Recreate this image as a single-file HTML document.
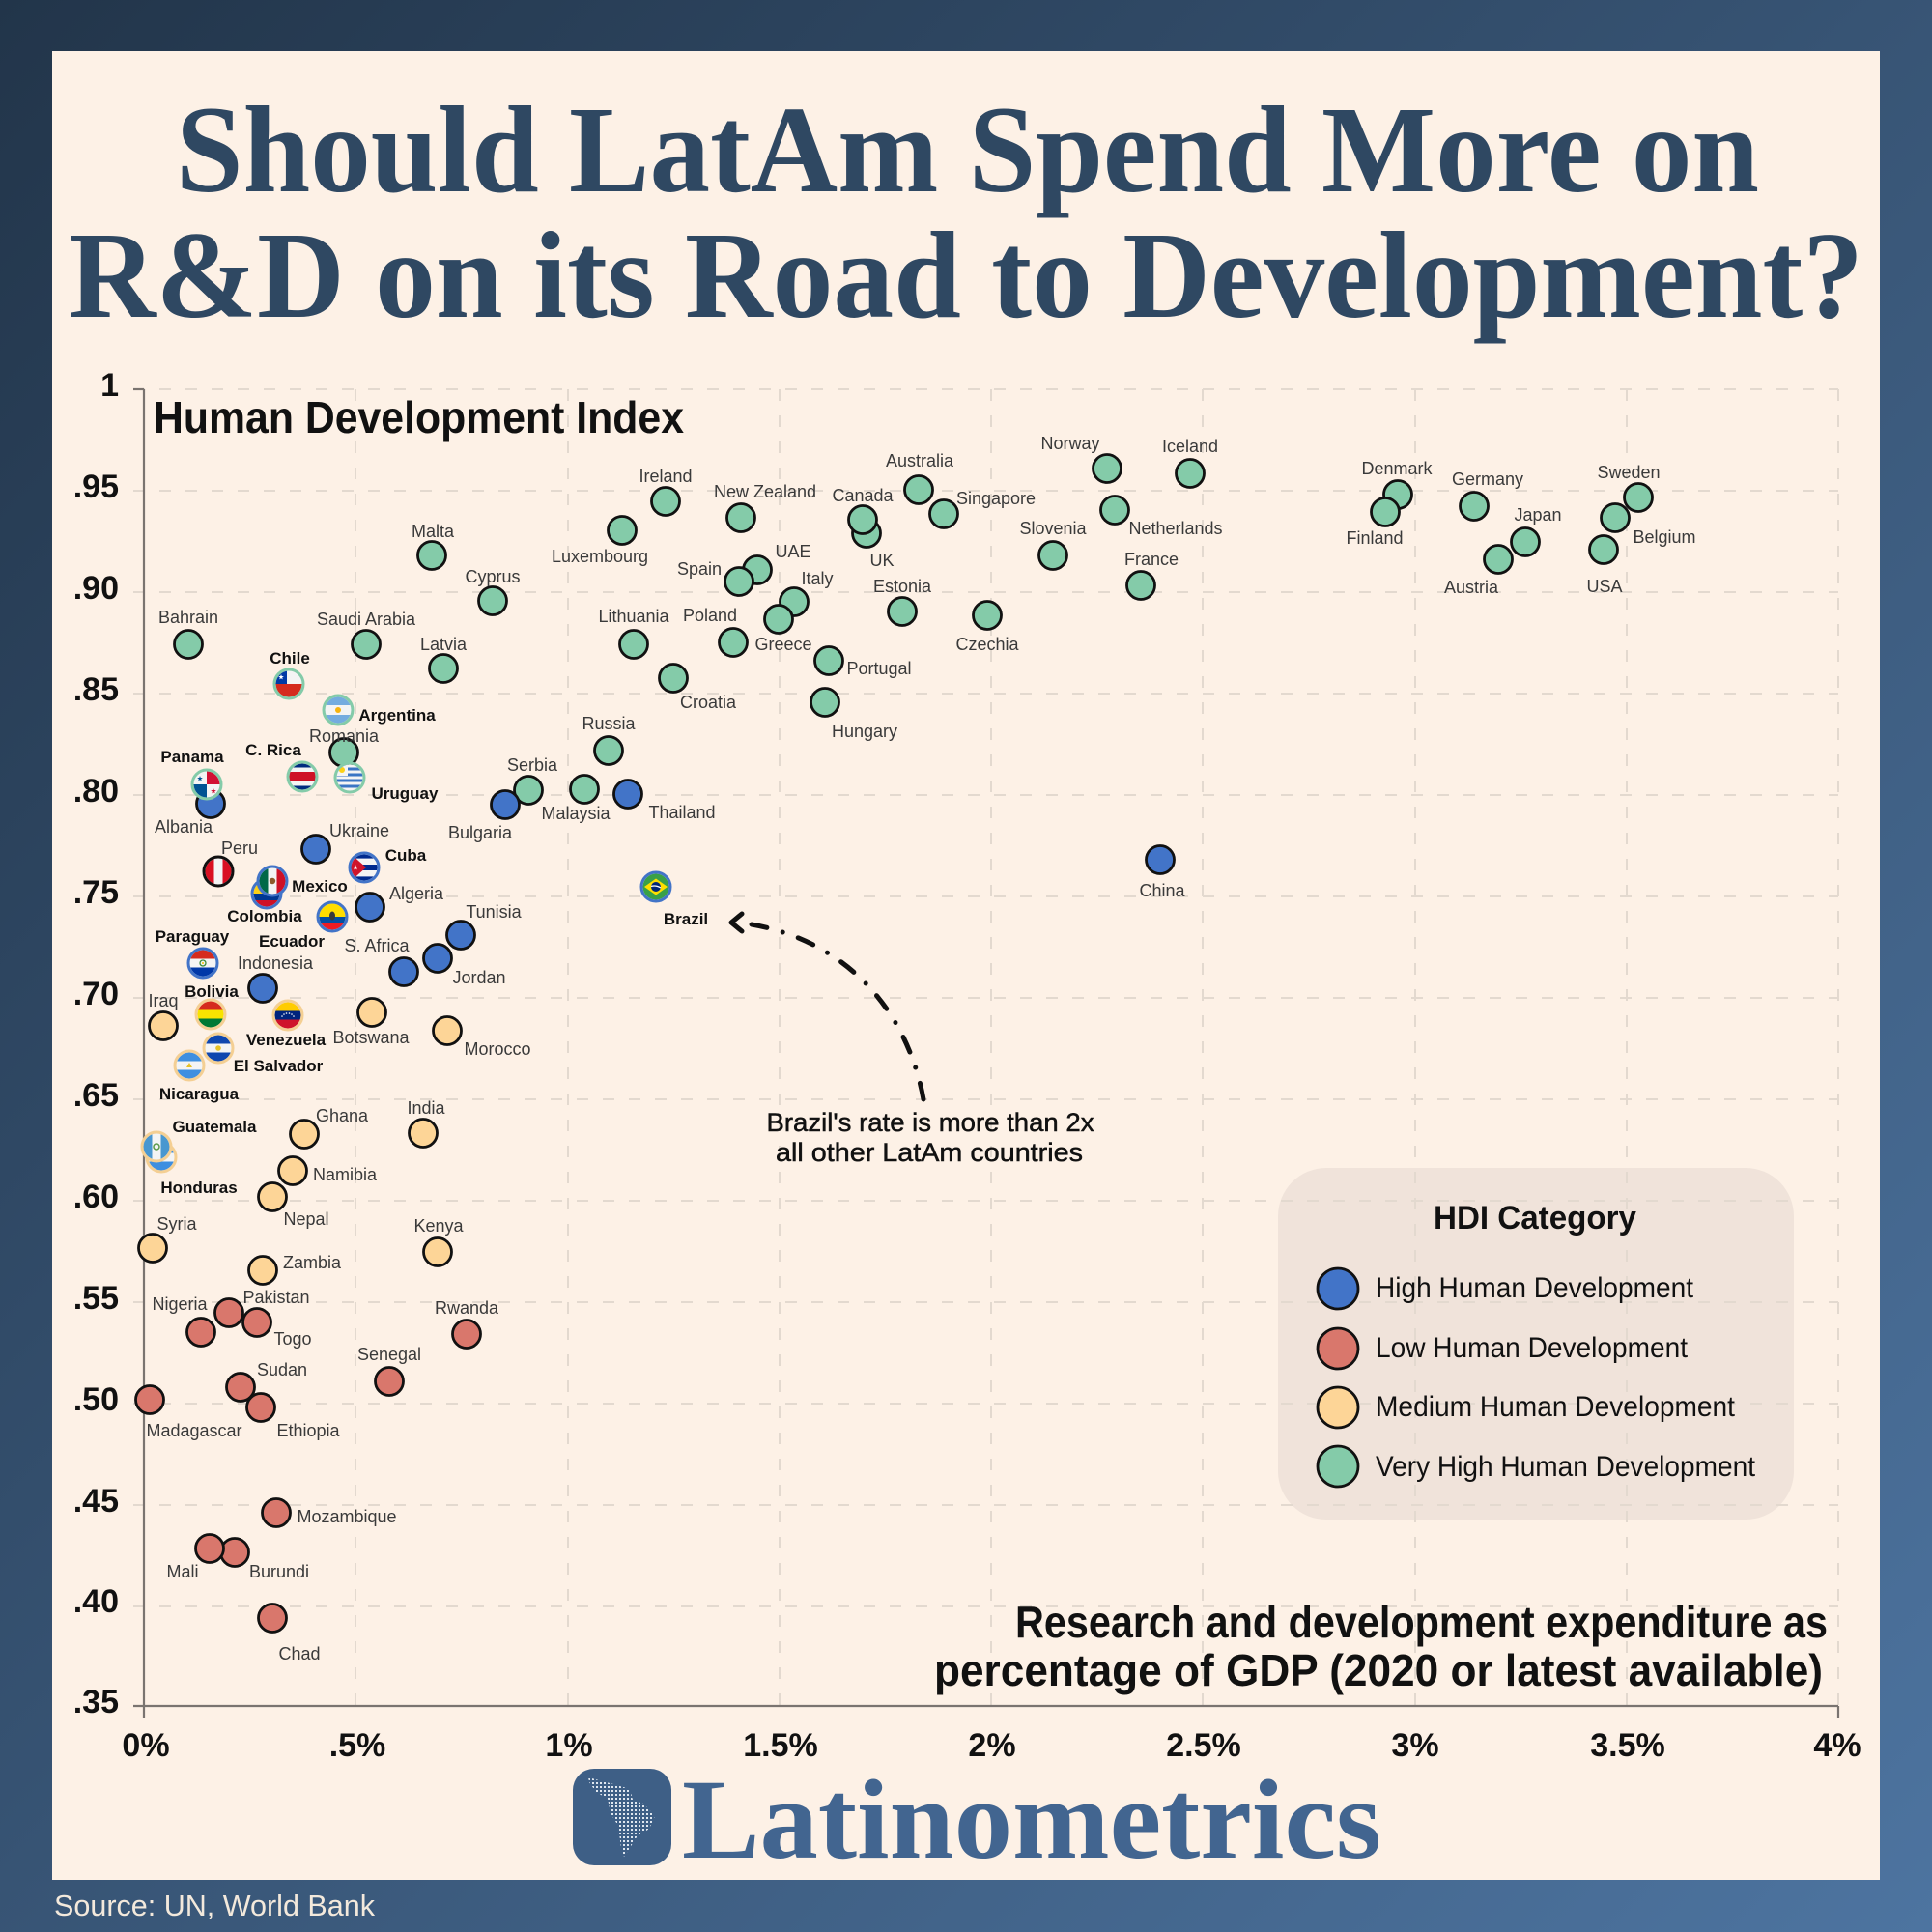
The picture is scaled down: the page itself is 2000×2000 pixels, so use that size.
<!DOCTYPE html>
<html><head><meta charset="utf-8"><style>
html,body{margin:0;padding:0;width:2000px;height:2000px;overflow:hidden;}
svg{display:block;}
.lb{font-family:"Liberation Sans",sans-serif;font-size:18px;fill:#3a3a3a;text-anchor:middle;}
.bl{font-family:"Liberation Sans",sans-serif;font-size:17px;font-weight:bold;fill:#111;text-anchor:middle;}
.yt{font-family:"Liberation Sans",sans-serif;font-size:34px;font-weight:bold;fill:#111;text-anchor:end;}
.xt{font-family:"Liberation Sans",sans-serif;font-size:34px;font-weight:bold;fill:#111;text-anchor:middle;}
.g{fill:#84cba9;stroke:#111;stroke-width:2.8;}
.b{fill:#4274c8;stroke:#111;stroke-width:2.8;}
.o{fill:#fdd597;stroke:#111;stroke-width:2.8;}
.r{fill:#d9776c;stroke:#111;stroke-width:2.8;}
</style></head><body>
<svg width="2000" height="2000" viewBox="0 0 2000 2000" xmlns="http://www.w3.org/2000/svg">
<defs>
<linearGradient id="bg" x1="0" y1="0" x2="2000" y2="2000" gradientUnits="userSpaceOnUse">
<stop offset="0" stop-color="#22354a"/><stop offset="1" stop-color="#4d74a0"/>
</linearGradient>
<clipPath id="fc"><circle cx="0" cy="0" r="13.5"/></clipPath>
<path id="star" d="M0,-3L0.7,-0.97L2.85,-0.93L1.14,0.37L1.76,2.43L0,1.2L-1.76,2.43L-1.14,0.37L-2.85,-0.93L-0.7,-0.97Z"/>
<pattern id="dots" x="0" y="0" width="4" height="4" patternUnits="userSpaceOnUse"><rect x="1" y="1" width="2" height="2" fill="#dfe7f0"/></pattern>
</defs>
<rect width="2000" height="2000" fill="url(#bg)"/>
<rect x="54" y="53" width="1892" height="1893" fill="#fdf1e6"/>

<!-- Title -->
<text x="182" y="198" font-family="'Liberation Serif',serif" font-weight="bold" font-size="128" fill="#2f4862" textLength="1639" lengthAdjust="spacingAndGlyphs">Should LatAm Spend More on</text>
<text x="71" y="328" font-family="'Liberation Serif',serif" font-weight="bold" font-size="128" fill="#2f4862" textLength="1858" lengthAdjust="spacingAndGlyphs">R&amp;D on its Road to Development?</text>

<!-- Legend box (behind grid partially) -->
<rect x="1323" y="1209" width="534" height="364" rx="50" fill="#e7dbd2" opacity="0.6"/>

<!-- Grid -->
<g stroke="#e3d9cf" stroke-width="2" stroke-dasharray="12 15" fill="none">
<line x1="138" y1="403" x2="1903" y2="403"/>
<line x1="138" y1="508" x2="1903" y2="508"/>
<line x1="138" y1="613" x2="1903" y2="613"/>
<line x1="138" y1="718" x2="1903" y2="718"/>
<line x1="138" y1="823" x2="1903" y2="823"/>
<line x1="138" y1="928" x2="1903" y2="928"/>
<line x1="138" y1="1033" x2="1903" y2="1033"/>
<line x1="138" y1="1138" x2="1903" y2="1138"/>
<line x1="138" y1="1243" x2="1903" y2="1243"/>
<line x1="138" y1="1348" x2="1903" y2="1348"/>
<line x1="138" y1="1453" x2="1903" y2="1453"/>
<line x1="138" y1="1558" x2="1903" y2="1558"/>
<line x1="138" y1="1663" x2="1903" y2="1663"/>
<line x1="368" y1="403" x2="368" y2="1766"/>
<line x1="588" y1="403" x2="588" y2="1766"/>
<line x1="807" y1="403" x2="807" y2="1766"/>
<line x1="1026" y1="403" x2="1026" y2="1766"/>
<line x1="1245" y1="403" x2="1245" y2="1766"/>
<line x1="1465" y1="403" x2="1465" y2="1766"/>
<line x1="1684" y1="403" x2="1684" y2="1766"/>
<line x1="1903" y1="403" x2="1903" y2="1766"/>
</g>

<!-- Axes -->
<g stroke="#7a7470" stroke-width="2.2" fill="none">
<line x1="149" y1="403" x2="149" y2="1778"/>
<line x1="138" y1="403" x2="149" y2="403"/>
<line x1="138" y1="1766" x2="1903" y2="1766"/>
<line x1="1903" y1="1766" x2="1903" y2="1778"/>
</g>

<!-- Y tick labels -->
<text class="yt" x="123" y="410">1</text>
<text class="yt" x="123" y="515">.95</text>
<text class="yt" x="123" y="620">.90</text>
<text class="yt" x="123" y="725">.85</text>
<text class="yt" x="123" y="830">.80</text>
<text class="yt" x="123" y="935">.75</text>
<text class="yt" x="123" y="1040">.70</text>
<text class="yt" x="123" y="1145">.65</text>
<text class="yt" x="123" y="1250">.60</text>
<text class="yt" x="123" y="1355">.55</text>
<text class="yt" x="123" y="1460">.50</text>
<text class="yt" x="123" y="1565">.45</text>
<text class="yt" x="123" y="1669">.40</text>
<text class="yt" x="123" y="1773">.35</text>

<!-- X tick labels -->
<text class="xt" x="151" y="1818">0%</text>
<text class="xt" x="370" y="1818">.5%</text>
<text class="xt" x="589" y="1818">1%</text>
<text class="xt" x="808" y="1818">1.5%</text>
<text class="xt" x="1027" y="1818">2%</text>
<text class="xt" x="1246" y="1818">2.5%</text>
<text class="xt" x="1465" y="1818">3%</text>
<text class="xt" x="1685" y="1818">3.5%</text>
<text class="xt" x="1902" y="1818">4%</text>

<!-- Axis titles -->
<text x="159" y="448" font-family="'Liberation Sans',sans-serif" font-weight="bold" font-size="46" fill="#111" textLength="549" lengthAdjust="spacingAndGlyphs">Human Development Index</text>
<text x="1051" y="1695" font-family="'Liberation Sans',sans-serif" font-weight="bold" font-size="46" fill="#111" textLength="841" lengthAdjust="spacingAndGlyphs">Research and development expenditure as</text>
<text x="967" y="1745" font-family="'Liberation Sans',sans-serif" font-weight="bold" font-size="46" fill="#111" textLength="920" lengthAdjust="spacingAndGlyphs">percentage of GDP (2020 or latest available)</text>

<!-- Legend -->
<text x="1589" y="1272" font-family="'Liberation Sans',sans-serif" font-weight="bold" font-size="34" fill="#111" text-anchor="middle" textLength="210" lengthAdjust="spacingAndGlyphs">HDI Category</text>
<circle cx="1385" cy="1334" r="21" class="b"/>
<circle cx="1385" cy="1396" r="21" class="r"/>
<circle cx="1385" cy="1457" r="21" class="o"/>
<circle cx="1385" cy="1518" r="21" class="g"/>
<g font-family="'Liberation Sans',sans-serif" font-size="30" fill="#111">
<text x="1424" y="1343" textLength="329" lengthAdjust="spacingAndGlyphs">High Human Development</text>
<text x="1424" y="1405" textLength="323" lengthAdjust="spacingAndGlyphs">Low Human Development</text>
<text x="1424" y="1466" textLength="372" lengthAdjust="spacingAndGlyphs">Medium Human Development</text>
<text x="1424" y="1528" textLength="393" lengthAdjust="spacingAndGlyphs">Very High Human Development</text>
</g>

<!-- Very high circles -->
<circle cx="689" cy="519" r="14.5" class="g"/>
<circle cx="644" cy="549" r="14.5" class="g"/>
<circle cx="767" cy="536" r="14.5" class="g"/>
<circle cx="897" cy="552" r="14.5" class="g"/>
<circle cx="893" cy="538" r="14.5" class="g"/>
<circle cx="951" cy="507" r="14.5" class="g"/>
<circle cx="977" cy="532" r="14.5" class="g"/>
<circle cx="1146" cy="485" r="14.5" class="g"/>
<circle cx="1232" cy="490" r="14.5" class="g"/>
<circle cx="1154" cy="528" r="14.5" class="g"/>
<circle cx="1090" cy="575" r="14.5" class="g"/>
<circle cx="1181" cy="606" r="14.5" class="g"/>
<circle cx="784" cy="590" r="14.5" class="g"/>
<circle cx="765" cy="602" r="14.5" class="g"/>
<circle cx="822" cy="623" r="14.5" class="g"/>
<circle cx="806" cy="641" r="14.5" class="g"/>
<circle cx="934" cy="633" r="14.5" class="g"/>
<circle cx="1022" cy="637" r="14.5" class="g"/>
<circle cx="656" cy="667" r="14.5" class="g"/>
<circle cx="759" cy="665" r="14.5" class="g"/>
<circle cx="858" cy="684" r="14.5" class="g"/>
<circle cx="697" cy="702" r="14.5" class="g"/>
<circle cx="854" cy="727" r="14.5" class="g"/>
<circle cx="630" cy="777" r="14.5" class="g"/>
<circle cx="605" cy="817" r="14.5" class="g"/>
<circle cx="1447" cy="512" r="14.5" class="g"/>
<circle cx="1434" cy="530" r="14.5" class="g"/>
<circle cx="1526" cy="524" r="14.5" class="g"/>
<circle cx="1579" cy="561" r="14.5" class="g"/>
<circle cx="1551" cy="579" r="14.5" class="g"/>
<circle cx="1696" cy="515" r="14.5" class="g"/>
<circle cx="1672" cy="536" r="14.5" class="g"/>
<circle cx="1660" cy="569" r="14.5" class="g"/>
<circle cx="195" cy="667" r="14.5" class="g"/>
<circle cx="379" cy="667" r="14.5" class="g"/>
<circle cx="447" cy="575" r="14.5" class="g"/>
<circle cx="510" cy="622" r="14.5" class="g"/>
<circle cx="459" cy="692" r="14.5" class="g"/>
<circle cx="356" cy="779" r="14.5" class="g"/>
<circle cx="547" cy="818" r="14.5" class="g"/>

<!-- High circles -->
<circle cx="218" cy="832" r="14.5" class="b"/>
<circle cx="523" cy="833" r="14.5" class="b"/>
<circle cx="650" cy="822" r="14.5" class="b"/>
<circle cx="1201" cy="890" r="14.5" class="b"/>
<circle cx="327" cy="879" r="14.5" class="b"/>
<circle cx="383" cy="939" r="14.5" class="b"/>
<circle cx="477" cy="968" r="14.5" class="b"/>
<circle cx="453" cy="992" r="14.5" class="b"/>
<circle cx="418" cy="1006" r="14.5" class="b"/>
<circle cx="272" cy="1023" r="14.5" class="b"/>

<!-- Medium circles -->
<circle cx="169" cy="1062" r="14.5" class="o"/>
<circle cx="385" cy="1048" r="14.5" class="o"/>
<circle cx="463" cy="1067" r="14.5" class="o"/>
<circle cx="315" cy="1174" r="14.5" class="o"/>
<circle cx="438" cy="1173" r="14.5" class="o"/>
<circle cx="303" cy="1212" r="14.5" class="o"/>
<circle cx="282" cy="1239" r="14.5" class="o"/>
<circle cx="158" cy="1292" r="14.5" class="o"/>
<circle cx="453" cy="1296" r="14.5" class="o"/>
<circle cx="272" cy="1315" r="14.5" class="o"/>

<!-- Low circles -->
<circle cx="237" cy="1359" r="14.5" class="r"/>
<circle cx="208" cy="1379" r="14.5" class="r"/>
<circle cx="266" cy="1369" r="14.5" class="r"/>
<circle cx="483" cy="1381" r="14.5" class="r"/>
<circle cx="403" cy="1430" r="14.5" class="r"/>
<circle cx="249" cy="1436" r="14.5" class="r"/>
<circle cx="155" cy="1449" r="14.5" class="r"/>
<circle cx="270" cy="1457" r="14.5" class="r"/>
<circle cx="286" cy="1566" r="14.5" class="r"/>
<circle cx="243" cy="1607" r="14.5" class="r"/>
<circle cx="217" cy="1603" r="14.5" class="r"/>
<circle cx="282" cy="1675" r="14.5" class="r"/>

<!-- Flags -->
<!-- Chile -->
<g transform="translate(299,708)"><g clip-path="url(#fc)">
<rect x="-15" y="-15" width="30" height="15" fill="#f4f4f4"/><rect x="-15" y="0" width="30" height="15" fill="#d52b1e"/><rect x="-15" y="-15" width="13" height="15" fill="#0039a6"/><use href="#star" x="-8" y="-7" fill="#fff"/>
</g><circle r="15" fill="none" stroke="#84cba9" stroke-width="3"/></g>
<!-- Argentina -->
<g transform="translate(350,735)"><g clip-path="url(#fc)">
<rect x="-15" y="-15" width="30" height="30" fill="#74acdf"/><rect x="-15" y="-5" width="30" height="10" fill="#f4f4f4"/><circle r="3" fill="#f6b40e"/>
</g><circle r="15" fill="none" stroke="#84cba9" stroke-width="3"/></g>
<!-- Costa Rica -->
<g transform="translate(313,804)"><g clip-path="url(#fc)">
<rect x="-15" y="-15" width="30" height="30" fill="#002b7f"/><rect x="-15" y="-9.5" width="30" height="19" fill="#f4f4f4"/><rect x="-15" y="-5" width="30" height="10" fill="#ce1126"/>
</g><circle r="15" fill="none" stroke="#84cba9" stroke-width="3"/></g>
<!-- Uruguay -->
<g transform="translate(362,805)"><g clip-path="url(#fc)">
<rect x="-15" y="-15" width="30" height="30" fill="#f4f4f4"/>
<rect x="-15" y="-10.5" width="30" height="3" fill="#3a75c4"/><rect x="-15" y="-4.5" width="30" height="3" fill="#3a75c4"/><rect x="-15" y="1.5" width="30" height="3" fill="#3a75c4"/><rect x="-15" y="7.5" width="30" height="3" fill="#3a75c4"/>
<rect x="-15" y="-15" width="13" height="13" fill="#f4f4f4"/><circle cx="-8" cy="-8" r="3" fill="#fcd116"/>
</g><circle r="15" fill="none" stroke="#84cba9" stroke-width="3"/></g>
<!-- Albania label-circle already drawn; Panama flag -->
<g transform="translate(214,812)"><g clip-path="url(#fc)">
<rect x="-15" y="-15" width="30" height="30" fill="#f4f4f4"/><rect x="0" y="-15" width="15" height="15" fill="#d21034"/><rect x="-15" y="0" width="15" height="15" fill="#005293"/><use href="#star" x="-7" y="-6" fill="#005293"/><use href="#star" x="7" y="7" fill="#d21034"/>
</g><circle r="15" fill="none" stroke="#84cba9" stroke-width="3"/></g>
<!-- Peru -->
<g transform="translate(226,902)"><g clip-path="url(#fc)">
<rect x="-15" y="-15" width="30" height="30" fill="#f4f4f4"/><rect x="-15" y="-15" width="10.5" height="30" fill="#d91023"/><rect x="4.5" y="-15" width="10.5" height="30" fill="#d91023"/>
</g><circle r="15" fill="none" stroke="#111" stroke-width="3"/></g>
<!-- Cuba -->
<g transform="translate(377,898)"><g clip-path="url(#fc)">
<rect x="-15" y="-15" width="30" height="30" fill="#f4f4f4"/><rect x="-15" y="-15" width="30" height="5.6" fill="#002a8f"/><rect x="-15" y="-3" width="30" height="6" fill="#002a8f"/><rect x="-15" y="9.4" width="30" height="6" fill="#002a8f"/>
<path d="M-15,-15L2,0L-15,15Z" fill="#cf142b"/><use href="#star" x="-9" y="0" fill="#fff"/>
</g><circle r="15" fill="none" stroke="#4274c8" stroke-width="3"/></g>
<!-- Colombia -->
<g transform="translate(276,925)"><g clip-path="url(#fc)">
<rect x="-15" y="-15" width="30" height="15" fill="#fcd116"/><rect x="-15" y="0" width="30" height="7" fill="#003893"/><rect x="-15" y="7" width="30" height="8" fill="#ce1126"/>
</g><circle r="15" fill="none" stroke="#4274c8" stroke-width="3"/></g>
<!-- Mexico -->
<g transform="translate(282,912)"><g clip-path="url(#fc)">
<rect x="-15" y="-15" width="30" height="30" fill="#f4f4f4"/><rect x="-15" y="-15" width="10.5" height="30" fill="#006847"/><rect x="4.5" y="-15" width="10.5" height="30" fill="#ce1126"/><circle r="3.2" fill="#8c5a2b"/>
</g><circle r="15" fill="none" stroke="#4274c8" stroke-width="3"/></g>
<!-- Ecuador -->
<g transform="translate(344,949)"><g clip-path="url(#fc)">
<rect x="-15" y="-15" width="30" height="15" fill="#ffdd00"/><rect x="-15" y="0" width="30" height="7" fill="#034ea2"/><rect x="-15" y="7" width="30" height="8" fill="#ed1c24"/><ellipse cx="0" cy="-1" rx="3" ry="4.5" fill="#3a3a3a"/>
</g><circle r="15" fill="none" stroke="#4274c8" stroke-width="3"/></g>
<!-- Paraguay -->
<g transform="translate(210,997)"><g clip-path="url(#fc)">
<rect x="-15" y="-15" width="30" height="30" fill="#f4f4f4"/><rect x="-15" y="-15" width="30" height="10.5" fill="#d52b1e"/><rect x="-15" y="4.5" width="30" height="10.5" fill="#0038a8"/><circle r="3" fill="none" stroke="#3c8a3c" stroke-width="1.3"/><circle r="1" fill="#f5c400"/>
</g><circle r="15" fill="none" stroke="#4274c8" stroke-width="3"/></g>
<!-- Bolivia -->
<g transform="translate(218,1050)"><g clip-path="url(#fc)">
<rect x="-15" y="-15" width="30" height="10.5" fill="#d52b1e"/><rect x="-15" y="-4.5" width="30" height="9" fill="#f9e300"/><rect x="-15" y="4.5" width="30" height="10.5" fill="#007934"/>
</g><circle r="15" fill="none" stroke="#f4cf93" stroke-width="3"/></g>
<!-- Venezuela -->
<g transform="translate(298,1051)"><g clip-path="url(#fc)">
<rect x="-15" y="-15" width="30" height="10.5" fill="#ffcc00"/><rect x="-15" y="-4.5" width="30" height="9" fill="#00247d"/><rect x="-15" y="4.5" width="30" height="10.5" fill="#cf142b"/>
<g fill="#fff"><circle cx="-6" cy="1" r="0.8"/><circle cx="-4" cy="-1" r="0.8"/><circle cx="-1.5" cy="-2" r="0.8"/><circle cx="1.5" cy="-2" r="0.8"/><circle cx="4" cy="-1" r="0.8"/><circle cx="6" cy="1" r="0.8"/></g>
</g><circle r="15" fill="none" stroke="#f4cf93" stroke-width="3"/></g>
<!-- El Salvador -->
<g transform="translate(226,1085)"><g clip-path="url(#fc)">
<rect x="-15" y="-15" width="30" height="30" fill="#f4f4f4"/><rect x="-15" y="-15" width="30" height="10.5" fill="#0f47af"/><rect x="-15" y="4.5" width="30" height="10.5" fill="#0f47af"/><circle r="2.8" fill="#e6c228"/>
</g><circle r="15" fill="none" stroke="#f4cf93" stroke-width="3"/></g>
<!-- Nicaragua -->
<g transform="translate(196,1103)"><g clip-path="url(#fc)">
<rect x="-15" y="-15" width="30" height="30" fill="#f4f4f4"/><rect x="-15" y="-15" width="30" height="10.5" fill="#3e8fe0"/><rect x="-15" y="4.5" width="30" height="10.5" fill="#3e8fe0"/><path d="M-3,2L0,-3L3,2Z" fill="#e6c228"/>
</g><circle r="15" fill="none" stroke="#f4cf93" stroke-width="3"/></g>
<!-- Honduras -->
<g transform="translate(167,1198)"><g clip-path="url(#fc)">
<rect x="-15" y="-15" width="30" height="30" fill="#f4f4f4"/><rect x="-15" y="-15" width="30" height="10.5" fill="#3e8fe0"/><rect x="-15" y="4.5" width="30" height="10.5" fill="#3e8fe0"/><use href="#star" x="0" y="0" fill="#3e8fe0" transform="scale(0.8)"/>
</g><circle r="15" fill="none" stroke="#f4cf93" stroke-width="3"/></g>
<!-- Guatemala -->
<g transform="translate(162,1187)"><g clip-path="url(#fc)">
<rect x="-15" y="-15" width="30" height="30" fill="#f4f4f4"/><rect x="-15" y="-15" width="10.5" height="30" fill="#4997d0"/><rect x="4.5" y="-15" width="10.5" height="30" fill="#4997d0"/><circle r="3" fill="none" stroke="#5a9a4a" stroke-width="1.5"/>
</g><circle r="15" fill="none" stroke="#f4cf93" stroke-width="3"/></g>
<!-- Brazil -->
<g transform="translate(679,918)"><g clip-path="url(#fc)">
<rect x="-15" y="-15" width="30" height="30" fill="#39a048"/><path d="M-12,0L0,-8.5L12,0L0,8.5Z" fill="#fedf00"/><circle r="5" fill="#002776"/><path d="M-5,-0.5Q0,-2 5,1" stroke="#fff" stroke-width="1.2" fill="none"/>
</g><circle r="15" fill="none" stroke="#4274c8" stroke-width="3"/></g>

<!-- Regular labels -->
<g class="lb">
<text x="689" y="499">Ireland</text>
<text x="621" y="582">Luxembourg</text>
<text x="792" y="515">New Zealand</text>
<text x="893" y="519">Canada</text>
<text x="913" y="586">UK</text>
<text x="952" y="483">Australia</text>
<text x="1031" y="522">Singapore</text>
<text x="1108" y="465">Norway</text>
<text x="1232" y="468">Iceland</text>
<text x="1217" y="553">Netherlands</text>
<text x="1090" y="553">Slovenia</text>
<text x="1192" y="585">France</text>
<text x="821" y="577">UAE</text>
<text x="724" y="595">Spain</text>
<text x="846" y="605">Italy</text>
<text x="811" y="673">Greece</text>
<text x="934" y="613">Estonia</text>
<text x="1022" y="673">Czechia</text>
<text x="656" y="644">Lithuania</text>
<text x="735" y="643">Poland</text>
<text x="910" y="698">Portugal</text>
<text x="733" y="733">Croatia</text>
<text x="895" y="763">Hungary</text>
<text x="630" y="755">Russia</text>
<text x="596" y="848">Malaysia</text>
<text x="706" y="847">Thailand</text>
<text x="1203" y="928">China</text>
<text x="1446" y="491">Denmark</text>
<text x="1423" y="563">Finland</text>
<text x="1540" y="502">Germany</text>
<text x="1592" y="539">Japan</text>
<text x="1523" y="614">Austria</text>
<text x="1686" y="495">Sweden</text>
<text x="1723" y="562">Belgium</text>
<text x="1661" y="613">USA</text>
<text x="195" y="645">Bahrain</text>
<text x="379" y="647">Saudi Arabia</text>
<text x="448" y="556">Malta</text>
<text x="510" y="603">Cyprus</text>
<text x="459" y="673">Latvia</text>
<text x="356" y="768">Romania</text>
<text x="551" y="798">Serbia</text>
<text x="190" y="862">Albania</text>
<text x="497" y="868">Bulgaria</text>
<text x="372" y="866">Ukraine</text>
<text x="248" y="884">Peru</text>
<text x="431" y="931">Algeria</text>
<text x="511" y="950">Tunisia</text>
<text x="390" y="985">S. Africa</text>
<text x="496" y="1018">Jordan</text>
<text x="285" y="1003">Indonesia</text>
<text x="169" y="1042">Iraq</text>
<text x="384" y="1080">Botswana</text>
<text x="515" y="1092">Morocco</text>
<text x="354" y="1161">Ghana</text>
<text x="441" y="1153">India</text>
<text x="357" y="1222">Namibia</text>
<text x="317" y="1268">Nepal</text>
<text x="183" y="1273">Syria</text>
<text x="454" y="1275">Kenya</text>
<text x="323" y="1313">Zambia</text>
<text x="286" y="1349">Pakistan</text>
<text x="186" y="1356">Nigeria</text>
<text x="303" y="1392">Togo</text>
<text x="483" y="1360">Rwanda</text>
<text x="403" y="1408">Senegal</text>
<text x="292" y="1424">Sudan</text>
<text x="201" y="1487">Madagascar</text>
<text x="319" y="1487">Ethiopia</text>
<text x="359" y="1576">Mozambique</text>
<text x="189" y="1633">Mali</text>
<text x="289" y="1633">Burundi</text>
<text x="310" y="1718">Chad</text>
</g>

<!-- Bold LatAm labels -->
<g class="bl">
<text x="300" y="687">Chile</text>
<text x="411" y="746">Argentina</text>
<text x="283" y="782">C. Rica</text>
<text x="419" y="827">Uruguay</text>
<text x="199" y="789">Panama</text>
<text x="420" y="891">Cuba</text>
<text x="331" y="923">Mexico</text>
<text x="274" y="954">Colombia</text>
<text x="302" y="980">Ecuador</text>
<text x="199" y="975">Paraguay</text>
<text x="219" y="1032">Bolivia</text>
<text x="296" y="1082">Venezuela</text>
<text x="288" y="1109">El Salvador</text>
<text x="206" y="1138">Nicaragua</text>
<text x="222" y="1172">Guatemala</text>
<text x="206" y="1235">Honduras</text>
<text x="710" y="957">Brazil</text>
</g>

<!-- Annotation -->
<path d="M956,1138 C940,1050 880,975 778,957" fill="none" stroke="#111" stroke-width="5" stroke-linecap="round" stroke-dasharray="17 17 0.01 17"/>
<polyline points="768,946 757,955 768,964" fill="none" stroke="#111" stroke-width="5" stroke-linecap="round" stroke-linejoin="round"/>
<g font-family="'Liberation Sans',sans-serif" font-size="27" fill="#111" stroke="#111" stroke-width="0.5" text-anchor="middle">
<text x="963" y="1171" textLength="339" lengthAdjust="spacingAndGlyphs">Brazil's rate is more than 2x</text>
<text x="962" y="1202" textLength="318" lengthAdjust="spacingAndGlyphs">all other LatAm countries</text>
</g>

<!-- Logo -->
<rect x="593" y="1831" width="102" height="100" rx="22" fill="#3e5f86"/>
<path d="M609,1840 L635,1847 L652,1852 L655,1863 L666,1867 L678,1880 L672,1893 L658,1903 L652,1913 L646,1922 L643,1913 L640,1890 L632,1877 L629,1862 L617,1855 L610,1845 Z" fill="url(#dots)"/>
<text x="706" y="1923" font-family="'Liberation Serif',serif" font-weight="bold" font-size="118" fill="#426590" textLength="724" lengthAdjust="spacingAndGlyphs">Latinometrics</text>

<!-- Source -->
<text x="56" y="1983" font-family="'Liberation Sans',sans-serif" font-size="31" fill="#f3e9dc" textLength="332" lengthAdjust="spacingAndGlyphs">Source: UN, World Bank</text>
</svg>
</body></html>
